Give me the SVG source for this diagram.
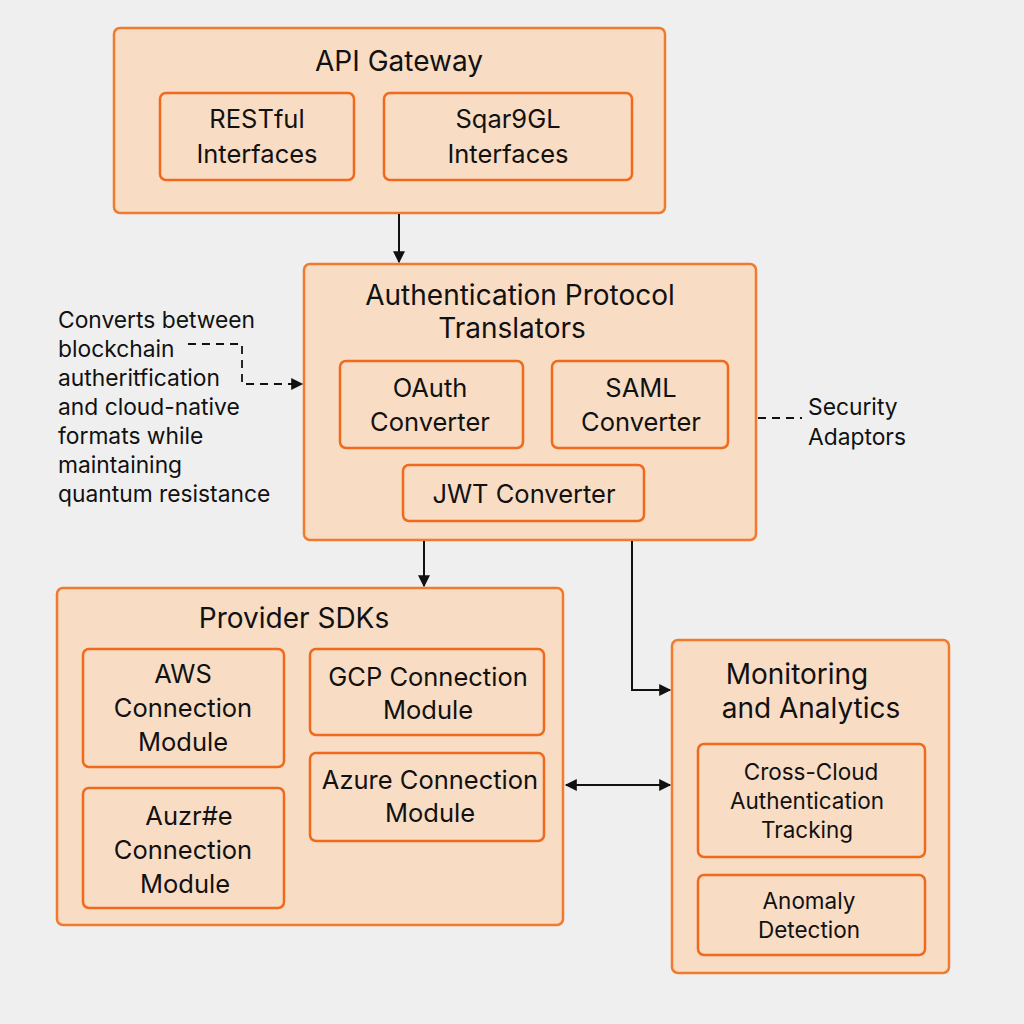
<svg xmlns="http://www.w3.org/2000/svg" width="1024" height="1024" viewBox="0 0 1024 1024">
<style>
.box{fill:#f9dcc4;stroke:#f07a2e;stroke-width:2.5}
.inner{fill:#f9dcc4;stroke:#f06a1e;stroke-width:2.5}
text{font-family:Inter,"Liberation Sans",Arial,sans-serif;fill:#111;text-anchor:middle}
.t{font-size:28px}
.s{font-size:25.5px}
.m{font-size:22.5px}
.note{font-size:22.8px;text-anchor:start}
.ln{stroke:#111;stroke-width:2;fill:none}
.dash{stroke:#111;stroke-width:1.8;fill:none;stroke-dasharray:8 6}
</style>
<defs>
<marker id="ahb" viewBox="0 0 10 10" refX="9" refY="5" markerWidth="14" markerHeight="12" orient="auto-start-reverse" markerUnits="userSpaceOnUse"><path d="M0,0 L10,5 L0,10 z" fill="#111"/></marker>
</defs>
<rect width="1024" height="1024" fill="#efefef"/>

<g id="api-gateway">
<rect class="box" x="114" y="28" width="551" height="185" rx="6"/>
<text class="t" x="399" y="71">API Gateway</text>
</g>
<g id="restful">
<rect class="inner" x="160" y="93" width="194" height="87" rx="6"/>
<text class="s" x="257" y="128">RESTful</text>
<text class="s" x="257" y="163">Interfaces</text>
</g>
<g id="sqar9gl">
<rect class="inner" x="384" y="93" width="248" height="87" rx="6"/>
<text class="s" x="508" y="128">Sqar9GL</text>
<text class="s" x="508" y="163">Interfaces</text>
</g>

<g id="auth-translators">
<rect class="box" x="304" y="264" width="452" height="276" rx="6"/>
<text class="t" x="520" y="305">Authentication Protocol</text>
<text class="t" x="512" y="338">Translators</text>
</g>
<g id="oauth">
<rect class="inner" x="340" y="361" width="183" height="87" rx="6"/>
<text class="s" x="430" y="397">OAuth</text>
<text class="s" x="430" y="431">Converter</text>
</g>
<g id="saml">
<rect class="inner" x="552" y="361" width="176" height="87" rx="6"/>
<text class="s" x="641" y="397">SAML</text>
<text class="s" x="641" y="431">Converter</text>
</g>
<g id="jwt">
<rect class="inner" x="403" y="465" width="241" height="56" rx="6"/>
<text class="s" x="524" y="503">JWT Converter</text>
</g>

<g id="note-converts">
<text class="note" x="58" y="328">Converts between</text>
<text class="note" x="58" y="357">blockchain</text>
<text class="note" x="58" y="386">autheritfication</text>
<text class="note" x="58" y="415">and cloud-native</text>
<text class="note" x="58" y="444">formats while</text>
<text class="note" x="58" y="473">maintaining</text>
<text class="note" x="58" y="502">quantum resistance</text>
</g>
<g id="note-security">
<text class="note" x="808" y="415">Security</text>
<text class="note" x="808" y="445">Adaptors</text>
</g>

<g id="provider-sdks">
<rect class="box" x="57" y="588" width="506" height="337" rx="6"/>
<text class="t" x="294" y="628">Provider SDKs</text>
</g>
<g id="aws">
<rect class="inner" x="83" y="649" width="201" height="118" rx="6"/>
<text class="s" x="183" y="683">AWS</text>
<text class="s" x="183" y="717">Connection</text>
<text class="s" x="183" y="751">Module</text>
</g>
<g id="auzre">
<rect class="inner" x="83" y="788" width="201" height="120" rx="6"/>
<text class="s" x="189" y="825">Auzr#e</text>
<text class="s" x="183" y="859">Connection</text>
<text class="s" x="185" y="893">Module</text>
</g>
<g id="gcp">
<rect class="inner" x="310" y="649" width="234" height="86" rx="6"/>
<text class="s" x="428" y="686">GCP Connection</text>
<text class="s" x="428" y="719">Module</text>
</g>
<g id="azure">
<rect class="inner" x="310" y="753" width="234" height="88" rx="6"/>
<text class="s" x="430" y="789">Azure Connection</text>
<text class="s" x="430" y="822">Module</text>
</g>

<g id="monitoring">
<rect class="box" x="672" y="640" width="277" height="333" rx="6"/>
<text class="t" x="797" y="684">Monitoring</text>
<text class="t" x="811" y="718">and Analytics</text>
</g>
<g id="cross-cloud">
<rect class="inner" x="698" y="744" width="227" height="113" rx="6"/>
<text class="m" x="811" y="780">Cross-Cloud</text>
<text class="m" x="807" y="809">Authentication</text>
<text class="m" x="807" y="838">Tracking</text>
</g>
<g id="anomaly">
<rect class="inner" x="698" y="875" width="227" height="80" rx="6"/>
<text class="m" x="809" y="909">Anomaly</text>
<text class="m" x="809" y="938">Detection</text>
</g>

<g id="connectors">
<line class="ln" x1="399" y1="214" x2="399" y2="262" marker-end="url(#ahb)"/>
<line class="ln" x1="424" y1="541" x2="424" y2="586" marker-end="url(#ahb)"/>
<polyline class="ln" points="632,541 632,690 670,690" marker-end="url(#ahb)"/>
<line class="ln" x1="566" y1="785" x2="670" y2="785" marker-start="url(#ahb)" marker-end="url(#ahb)"/>
<polyline class="dash" points="188,344 242,344 242,384 302,384" marker-end="url(#ahb)"/>
<line class="dash" x1="758" y1="418" x2="802" y2="418"/>
</g>
</svg>
